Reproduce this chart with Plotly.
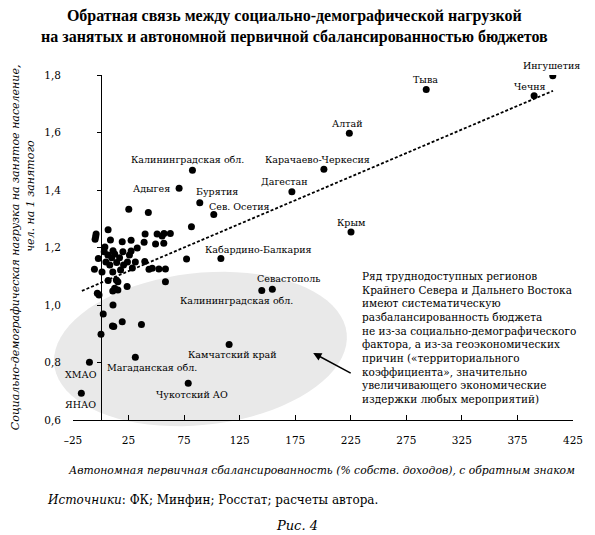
import numpy as np
import plotly.graph_objects as go

# ---------------- data ----------------
label_names = ["Ингушетия", "Тыва", "Чечня", "Алтай", "Карачаево-Черкесия",
               "Калининградская обл.", "Адыгея", "Дагестан", "Бурятия", "Сев. Осетия",
               "Крым", "Кабардино-Балкария", "Калининградская обл.", "Севастополь",
               "Камчатский край", "Чукотский АО", "Магаданская обл.", "ХМАО", "ЯНАО"]
label_x = [406.8, 292.9, 390.0, 223.7, 200.8,
           82.5, 70.5, 172.0, 89.1, 101.7,
           225.2, 108.1, 144.9, 154.4,
           115.5, 78.7, 31.1, -10.2, -17.5]
label_y = [1.797, 1.750, 1.728, 1.597, 1.472,
           1.469, 1.406, 1.394, 1.356, 1.315,
           1.254, 1.162, 1.050, 1.055,
           0.863, 0.728, 0.818, 0.801, 0.693]

other_x = [25.2, 42.8, 6.6, -4.2, -5.1, 8.7, 19.3, 27.3, 39.9, 39.0,
           50.7, 55.2, 56.9, 62.6, 49.3, 56.7, 81.6, 3.1, 11.0, 19.9,
           27.3, 25.8, -2.2, 77.2, 39.6, -5.7, 43.4, 46.3, 52.3, 58.2,
           6.6, 14.0, 15.4, 58.2, 12.5, 15.4, 10.8, 23.7, -3.1, -1.6,
           11.0, 2.2, 10.5, 11.7, 19.3, 36.6, 0.2,
           3.7, 6.4, 9.9, 12.5, 14.3, 16.9, 8.1, 4.6, 20.5,
           24.0, 28.4, 10.8, 17.8, 31.1, 1.1, 32.8, -4.6]
other_y = [1.333, 1.322, 1.262, 1.247, 1.229, 1.226, 1.220, 1.225, 1.247, 1.218,
           1.247, 1.240, 1.249, 1.249, 1.212, 1.215, 1.272, 1.185, 1.189, 1.185,
           1.188, 1.174, 1.162, 1.160, 1.151, 1.124, 1.124, 1.128, 1.125, 1.125,
           1.085, 1.087, 1.081, 1.081, 1.058, 1.052, 1.049, 1.064, 1.041, 1.035,
           1.000, 0.969, 0.927, 0.925, 0.942, 0.932, 0.898,
           1.202, 1.174, 1.164, 1.177, 1.148, 1.164, 1.139, 1.150, 1.139,
           1.150, 1.129, 1.115, 1.122, 1.150, 1.115, 1.198, 1.238]

trend_x = [-17.0, 407.0]
trend_y = [1.049, 1.745]

x_ticks = [-25, 25, 75, 125, 175, 225, 275, 325, 375, 425]
x_ticktext = ["–25", "25", "75", "125", "175", "225", "275", "325", "375", "425"]
y_ticks = [0.6, 0.8, 1.0, 1.2, 1.4, 1.6, 1.8]
y_ticktext = ["0,6", "0,8", "1,0", "1,2", "1,4", "1,6", "1,8"]

title_text = ("Обратная связь между социально-демографической нагрузкой<br>"
              "на занятых и автономной первичной сбалансированностью бюджетов")
x_title = "Автономная первичная сбалансированность (% собств. доходов), с обратным знаком"
y_title1 = "Социально-демографическая нагрузка на занятое население,"
y_title2 = "чел. на 1 занятого"
note_text = ("Ряд труднодоступных регионов<br>Крайнего Севера и Дальнего Востока<br>"
             "имеют систематическую<br>разбалансированность бюджета<br>"
             "не из-за социально-демографического<br>фактора, а из-за геоэкономических<br>"
             "причин («территориального<br>коэффициента», значительно<br>"
             "увеличивающего экономические<br>издержки любых мероприятий)")
source_text = "<i>Источники</i>: ФК; Минфин; Росстат; расчеты автора."
fig_caption = "<i>Рис. 4</i>"

# ---------------- styling / layout helpers ----------------
# the page has an 8px body margin, so the figure is drawn 8px smaller
OFF = 8
W, H = 595 - OFF, 535 - OFF
ML, MT = 73 - OFF, 75 - OFF
PW, PH = 510, 345
MR, MB = W - ML - PW, H - MT - PH
FONT = "DejaVu Serif"
TFONT = "Liberation Serif"

def px2paper(px, py):
    """page pixel -> paper coords"""
    return (px - OFF - ML) / PW, (MT + PH - (py - OFF)) / PH

# label offsets (pixels): xshift, yshift, xanchor
label_style = {
    0: (-1, 10, "center"), 1: (-1, 10, "center"), 2: (-4, 9, "center"),
    3: (-2, 10, "center"), 4: (-6, 10, "center"), 5: (-5, 11, "center"),
    6: (-7, 0, "right"), 7: (-7, 10, "center"), 8: (17, 11, "center"),
    9: (26, 8, "center"), 10: (0, 9, "center"), 11: (38, 9, "center"),
    12: (-25, -10, "center"), 13: (16, 11, "center"), 14: (3, -10, "center"),
    15: (4, -11, "center"), 16: (17, -10, "center"), 17: (-8, -12, "center"),
    18: (-1, -11, "center"),
}

fig = go.Figure()

fig.add_trace(go.Scatter(x=trend_x, y=trend_y, mode="lines",
                         line=dict(color="black", width=1.8, dash="3px,2px"),
                         showlegend=False, hoverinfo="skip"))
fig.add_trace(go.Scatter(x=other_x + label_x, y=other_y + label_y, mode="markers",
                         marker=dict(color="black", size=7),
                         showlegend=False))
fig.add_trace(go.Scatter(x=[None], y=[None], yaxis="y2", showlegend=False, hoverinfo="skip"))

# gray ellipse (rotated), in paper coordinates
cx, cy, a, b, phi = 203, 349, 150, 76, np.deg2rad(-6)
t = np.linspace(0, 2 * np.pi, 80)
ex = cx + a * np.cos(t) * np.cos(phi) - b * np.sin(t) * np.sin(phi)
ey = cy + a * np.cos(t) * np.sin(phi) + b * np.sin(t) * np.cos(phi)
pts = [px2paper(u, v) for u, v in zip(ex, ey)]
path = "M " + " L ".join(f"{u:.4f},{v:.4f}" for u, v in pts) + " Z"
fig.add_shape(type="path", path=path, xref="paper", yref="paper",
              fillcolor="#e9e9e9", line=dict(width=0), layer="below")

annotations = []
for i, (n, x, y) in enumerate(zip(label_names, label_x, label_y)):
    xs, ys, xa = label_style[i]
    annotations.append(dict(x=x, y=y, xref="x", yref="y", text=n, showarrow=False,
                            xshift=xs, yshift=ys, xanchor=xa, yanchor="middle",
                            font=dict(family=FONT, size=9.5, color="black")))

tx, ty = px2paper(299, 27)
annotations.append(dict(x=tx, y=ty, xref="paper", yref="paper", text=f"<b>{title_text}</b>",
                        showarrow=False, xanchor="center", yanchor="middle",
                        font=dict(family=TFONT, size=16, color="black")))
nx, ny = px2paper(366, 268)
annotations.append(dict(x=nx, y=ny, xref="paper", yref="paper", text=note_text,
                        showarrow=False, xanchor="left", yanchor="top", align="left",
                        font=dict(family=FONT, size=10.5, color="black")))
hx, hy = px2paper(318, 353)
annotations.append(dict(x=hx, y=hy, xref="paper", yref="paper", text="",
                        showarrow=True, ax=39, ay=21, arrowhead=2, arrowsize=1.1,
                        arrowwidth=1.5, arrowcolor="black"))
xtx, xty = px2paper(326, 470)
annotations.append(dict(x=xtx, y=xty, xref="paper", yref="paper", text=f"<i>{x_title}</i>",
                        showarrow=False, xanchor="center", yanchor="middle",
                        font=dict(family=FONT, size=10.8, color="black")))
y1x, y1y = px2paper(14, 247)
annotations.append(dict(x=y1x, y=y1y, xref="paper", yref="paper", text=f"<i>{y_title1}</i>",
                        showarrow=False, textangle=-90, xanchor="center", yanchor="middle",
                        font=dict(family=FONT, size=11, color="black")))
y2x, y2y = px2paper(29, 196)
annotations.append(dict(x=y2x, y=y2y, xref="paper", yref="paper", text=f"<i>{y_title2}</i>",
                        showarrow=False, textangle=-90, xanchor="center", yanchor="middle",
                        font=dict(family=FONT, size=11, color="black")))
sx, sy = px2paper(44, 500)
annotations.append(dict(x=sx, y=sy, xref="paper", yref="paper", text=source_text,
                        showarrow=False, xanchor="left", yanchor="middle",
                        font=dict(family=FONT, size=12, color="black")))
cpx, cpy = px2paper(301, 525)
annotations.append(dict(x=cpx, y=cpy, xref="paper", yref="paper", text=fig_caption,
                        showarrow=False, xanchor="center", yanchor="middle",
                        font=dict(family=FONT, size=13, color="black")))

fig.update_layout(
    width=W, height=H,
    margin=dict(l=ML, r=MR, t=MT, b=MB, pad=0),
    paper_bgcolor="white", plot_bgcolor="rgba(0,0,0,0)",
    font=dict(family=FONT, color="black"),
    showlegend=False,
    xaxis=dict(range=[-25, 425], tickvals=x_ticks, ticktext=x_ticktext,
               showline=True, linecolor="black", linewidth=1.3,
               ticks="inside", ticklen=5, tickcolor="black", tickwidth=1.2,
               showgrid=False, zeroline=False, ticklabelstandoff=10,
               tickfont=dict(family=FONT, size=10.5, color="black")),
    yaxis=dict(range=[0.6, 1.8], tickvals=y_ticks, ticktext=y_ticktext,
               showline=False, ticks="", showgrid=False, zeroline=False,
               ticklabelstandoff=11,
               tickfont=dict(family=FONT, size=10.5, color="black")),
    yaxis2=dict(overlaying="y", anchor="free", position=25 / 450, side="left",
                range=[0.6, 1.8], tickvals=y_ticks, showticklabels=False,
                showline=True, linecolor="black", linewidth=1.3,
                ticks="outside", ticklen=4, tickcolor="black", tickwidth=1.2,
                showgrid=False, zeroline=False),
    annotations=annotations,
)

fig.write_html("out.html")
